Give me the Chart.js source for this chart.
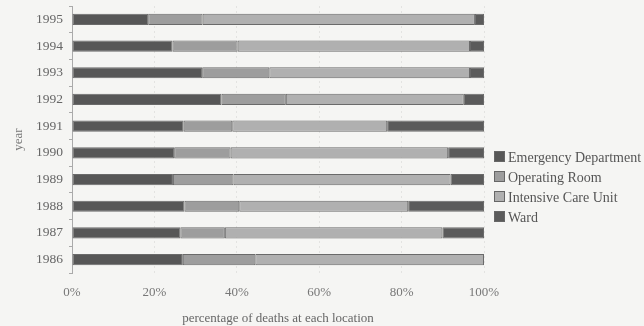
<!DOCTYPE html>
<html>
<head>
<meta charset="utf-8">
<script src="https://cdn.jsdelivr.net/npm/chart.js@4/dist/chart.umd.min.js"></script>
<style>
  html, body { margin: 0; padding: 0; background: #f5f5f3; }
  #wrap { position: relative; width: 644px; height: 326px; }
  #legend {
    position: absolute; left: 494px; top: 148px;
    font-family: "Liberation Serif", serif; font-size: 14px; color: #555;
    line-height: 20px;
  }
  #legend span.box {
    display: inline-block; width: 9px; height: 9px; margin-right: 3px;
    border: 1px solid #666; vertical-align: 0px;
  }
</style>
</head>
<body>
<div id="wrap">
  <canvas id="chart" width="644" height="326"></canvas>
  <div id="legend"></div>
</div>
<script>
const years = ["1995", "1994", "1993", "1992", "1991", "1990", "1989", "1988", "1987", "1986"];
const emergency = [18.5, 24.4, 31.6, 36.3, 27.1, 24.8, 24.5, 27.3, 26.3, 26.9];
const operating = [13.2, 15.8, 16.3, 15.6, 11.8, 13.7, 14.7, 13.3, 10.8, 17.6];
const intensive = [66.1, 56.4, 48.7, 43.2, 37.6, 52.8, 52.7, 41.0, 52.8, 55.5];
const ward = [2.2, 3.4, 3.4, 4.9, 23.5, 8.7, 8.1, 18.4, 10.1, 0.0];
const xTicks = ["0%", "20%", "40%", "60%", "80%", "100%"];

const serif = "'Liberation Serif', 'Times New Roman', serif";

const series = [
  { label: "Emergency Department", data: emergency, color: "#575757" },
  { label: "Operating Room", data: operating, color: "#9d9d9d" },
  { label: "Intensive Care Unit", data: intensive, color: "#b0b0b0" },
  { label: "Ward", data: ward, color: "#5b5b5b" }
];

const chartConfig = {
  type: "bar",
  data: {
    labels: years,
    datasets: series.map(s => ({
      label: s.label,
      data: s.data,
      backgroundColor: s.color,
      borderColor: "#6a6a6a",
      borderWidth: 1,
      borderSkipped: false,
      barPercentage: 0.42,
      categoryPercentage: 1.0
    }))
  },
  options: {
    indexAxis: "y",
    responsive: false,
    animation: false,
    events: [],
    layout: { padding: { top: 6, right: 160, left: 0, bottom: 0 } },
    plugins: {
      legend: { display: false },
      tooltip: { enabled: false }
    },
    scales: {
      x: {
        stacked: true,
        min: 0,
        max: 100,
        afterFit: scale => { scale.height = 53; },
        ticks: {
          stepSize: 20,
          padding: 12,
          color: "#777",
          font: { family: serif, size: 13 },
          callback: (v, i) => xTicks[i]
        },
        grid: {
          color: "rgba(0,0,0,0.07)",
          drawTicks: false
        },
        border: { display: false, dash: [2, 3] },
        title: {
          display: true,
          text: "percentage of deaths at each location",
          color: "#666",
          font: { family: serif, size: 13 },
          padding: { top: 10, bottom: 0 }
        }
      },
      y: {
        stacked: true,
        afterFit: scale => {
          scale.width = 72;
          scale.paddingTop = 0;
          scale.paddingBottom = 0;
        },
        ticks: {
          color: "#666",
          padding: 6,
          font: { family: serif, size: 13.5 }
        },
        grid: {
          drawOnChartArea: false,
          tickLength: 3,
          color: "#aaa"
        },
        border: { color: "#aaa" },
        title: {
          display: true,
          text: "year",
          color: "#777",
          font: { family: serif, size: 13 },
          padding: { top: 11, bottom: 6 }
        }
      }
    }
  }
};

// dotted vertical grid
chartConfig.options.scales.x.grid.borderDash = [2, 3];

const canvasContext = document.getElementById("chart").getContext("2d");
new Chart(canvasContext, chartConfig);

// legend
const legend = document.getElementById("legend");
series.forEach(s => {
  const row = document.createElement("div");
  row.innerHTML = '<span class="box" style="background:' + s.color + '"></span>' + s.label;
  legend.appendChild(row);
});
</script>
</body>
</html>
